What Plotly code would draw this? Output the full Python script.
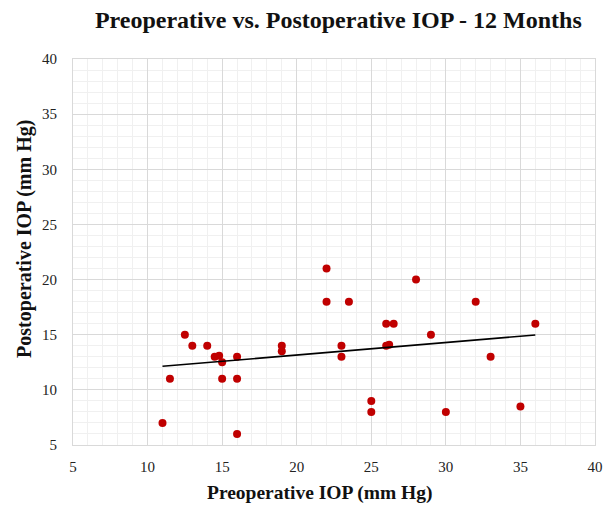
import numpy as np
import plotly.graph_objects as go

preop = [11, 11.5, 12.5, 13, 14, 14.5, 14.8, 15, 15, 16, 16, 16,
         19, 19, 22, 22, 23, 23, 23.5, 26, 26.5, 26, 26.2, 28, 29,
         32, 33, 36, 25, 25, 30, 35]
postop = [7, 11, 15, 14, 14, 13, 13.1, 12.5, 11, 13, 11, 6,
          14, 13.5, 21, 18, 14, 13, 18, 16, 16, 14, 14.1, 20, 15,
          18, 13, 16, 9, 8, 8, 8.5]
x_ticks = [5, 10, 15, 20, 25, 30, 35, 40]
y_ticks = [5, 10, 15, 20, 25, 30, 35, 40]

slope, intercept = np.polyfit(preop, postop, 1)
xfit = np.array([min(preop), max(preop)])
yfit = slope * xfit + intercept

FONT = "Palatino Linotype, Book Antiqua, Palatino, Liberation Serif, serif"

fig = go.Figure()
fig.add_trace(go.Scatter(x=preop, y=postop, mode="markers",
                         marker=dict(color="#c00000", size=8),
                         showlegend=False, hoverinfo="x+y"))
fig.add_trace(go.Scatter(x=xfit, y=yfit, mode="lines",
                         line=dict(color="black", width=1.6),
                         showlegend=False, hoverinfo="skip"))

axis_common = dict(
    automargin=False,
    showgrid=True, gridcolor="#d9d9d9", gridwidth=1,
    minor=dict(dtick=1, showgrid=True, gridcolor="#f0f0f0", gridwidth=1),
    showline=True, linecolor="#d9d9d9", linewidth=1, mirror=True,
    zeroline=False, ticks="", tickfont=dict(family=FONT, size=15, color="#222"),
)

fig.update_xaxes(range=[5, 40], tickvals=x_ticks, ticklabelstandoff=8, **axis_common)
fig.update_yaxes(range=[5, 40], tickvals=y_ticks, ticklabelstandoff=12, **axis_common)

fig.add_annotation(text="<b>Preoperative IOP (mm Hg)</b>", xref="paper", yref="paper",
                   x=0.473, y=0, xanchor="center", yanchor="middle", yshift=-48,
                   showarrow=False, font=dict(family=FONT, size=19.5, color="#111"))
fig.add_annotation(text="<b>Postoperative IOP (mm Hg)</b>", xref="paper", yref="paper",
                   x=0, y=0.534, xanchor="center", yanchor="middle", xshift=-48,
                   textangle=-90, showarrow=False,
                   font=dict(family=FONT, size=20, color="#111"))

fig.update_layout(
    width=614, height=507,
    margin=dict(l=65, r=27, t=51, b=70, autoexpand=False),
    plot_bgcolor="white", paper_bgcolor="white",
    title=dict(text="<b>Preoperative vs. Postoperative IOP - 12 Months</b>",
               font=dict(family=FONT, size=24, color="#111"),
               x=0.538, xanchor="center", y=0.978, yanchor="middle"),
)

fig.write_html("out.html")
